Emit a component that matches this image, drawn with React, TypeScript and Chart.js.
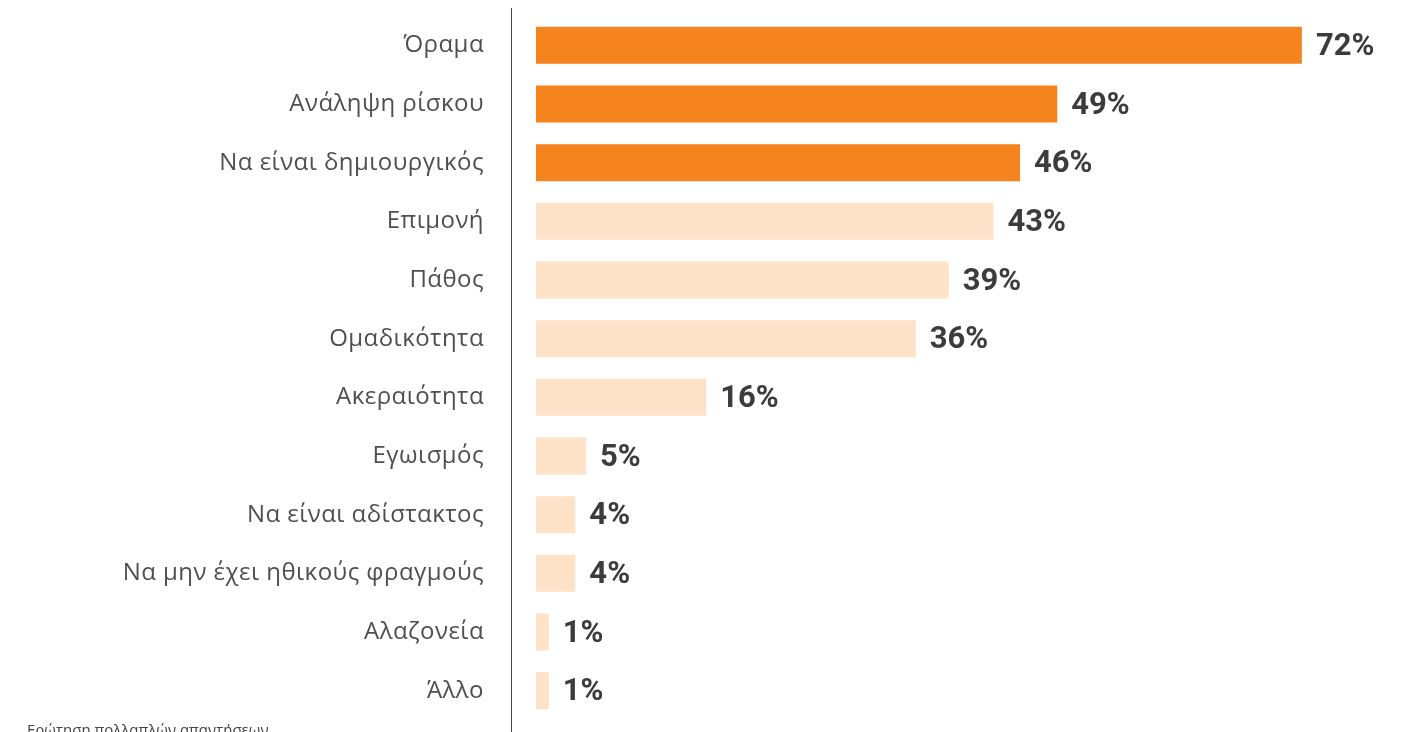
import React, { useEffect, useRef } from "react";
import { Chart, registerables } from "chart.js";

Chart.register(...registerables);

const categories = [
  "Όραμα",
  "Ανάληψη ρίσκου",
  "Να είναι δημιουργικός",
  "Επιμονή",
  "Πάθος",
  "Ομαδικότητα",
  "Ακεραιότητα",
  "Εγωισμός",
  "Να είναι αδίστακτος",
  "Να μην έχει ηθικούς φραγμούς",
  "Αλαζονεία",
  "Άλλο",
];

const values = [72, 49, 45.5, 43, 38.8, 35.7, 16, 4.7, 3.7, 3.7, 1.2, 1.2];
const valueLabels = ["72%", "49%", "46%", "43%", "39%", "36%", "16%", "5%", "4%", "4%", "1%", "1%"];
const highlighted = [true, true, true, false, false, false, false, false, false, false, false, false];

const footnote = "Ερώτηση πολλαπλών απαντήσεων";

const DARK = "#F5841F";
const LIGHT = "#FDE2C7";

export default function App() {
  const ref = useRef<HTMLCanvasElement | null>(null);

  useEffect(() => {
    if (!ref.current) return;

    const spacingPlugin = {
      id: "tickSpacing",
      beforeDraw(chart: any) {
        (chart.ctx as any).letterSpacing = "0.45px";
      },
      afterDraw(chart: any) {
        (chart.ctx as any).letterSpacing = "0px";
      },
    };

    const labelPlugin = {
      id: "valueLabels",
      afterDatasetsDraw(chart: any) {
        const ctx = chart.ctx;
        const meta = chart.getDatasetMeta(0);
        ctx.save();
        (ctx as any).letterSpacing = "0px";
        ctx.font = "bold 31px Roboto";
        ctx.fillStyle = "#3c3c3c";
        ctx.textAlign = "left";
        ctx.textBaseline = "middle";
        meta.data.forEach((bar: any, i: number) => {
          ctx.fillText(valueLabels[i], bar.x + 14, bar.y + 2);
        });
        ctx.restore();
      },
    };

    const linePlugin = {
      id: "axisLine",
      afterDraw(chart: any) {
        const ctx = chart.ctx;
        const x = Math.round(chart.chartArea.left) + 0.5;
        ctx.save();
        (ctx as any).letterSpacing = "0px";
        ctx.strokeStyle = "#444444";
        ctx.lineWidth = 1;
        ctx.beginPath();
        ctx.moveTo(x, 0);
        ctx.lineTo(x, chart.height);
        ctx.stroke();
        ctx.font = "15px 'Open Sans'";
        ctx.fillStyle = "#444444";
        ctx.textAlign = "left";
        ctx.textBaseline = "alphabetic";
        ctx.fillText(footnote, 19, 727);
        ctx.restore();
      },
    };

    const chart = new Chart(ref.current, {
      type: "bar",
      data: {
        labels: categories,
        datasets: [
          {
            data: values,
            backgroundColor: highlighted.map((h) => (h ? DARK : LIGHT)),
            borderWidth: 0,
            categoryPercentage: 1,
            barPercentage: 0.63,
          },
        ],
      },
      options: {
        indexAxis: "y",
        animation: false,
        responsive: true,
        maintainAspectRatio: false,
        layout: { padding: { top: 8, bottom: 48, left: 0, right: 19 } },
        plugins: {
          legend: { display: false },
          tooltip: { enabled: false },
          title: { display: false },
        },
        scales: {
          x: {
            display: false,
            min: -2.35,
            max: 80,
          },
          y: {
            afterFit(scale: any) {
              scale.width = 503;
              scale.paddingTop = 0;
              scale.paddingBottom = 0;
            },
            grid: { display: false, drawTicks: false },
            border: { display: false },
            ticks: {
              padding: 27,
              color: "#4f4f4f",
              font: { family: "'Open Sans'", size: 24, weight: "normal" },
            },
          },
        },
      },
      plugins: [spacingPlugin, labelPlugin, linePlugin],
    });

    return () => chart.destroy();
  }, []);

  return (
    <div style={{ width: 1398, height: 760, position: "relative" }}>
      <canvas ref={ref} />
    </div>
  );
}
